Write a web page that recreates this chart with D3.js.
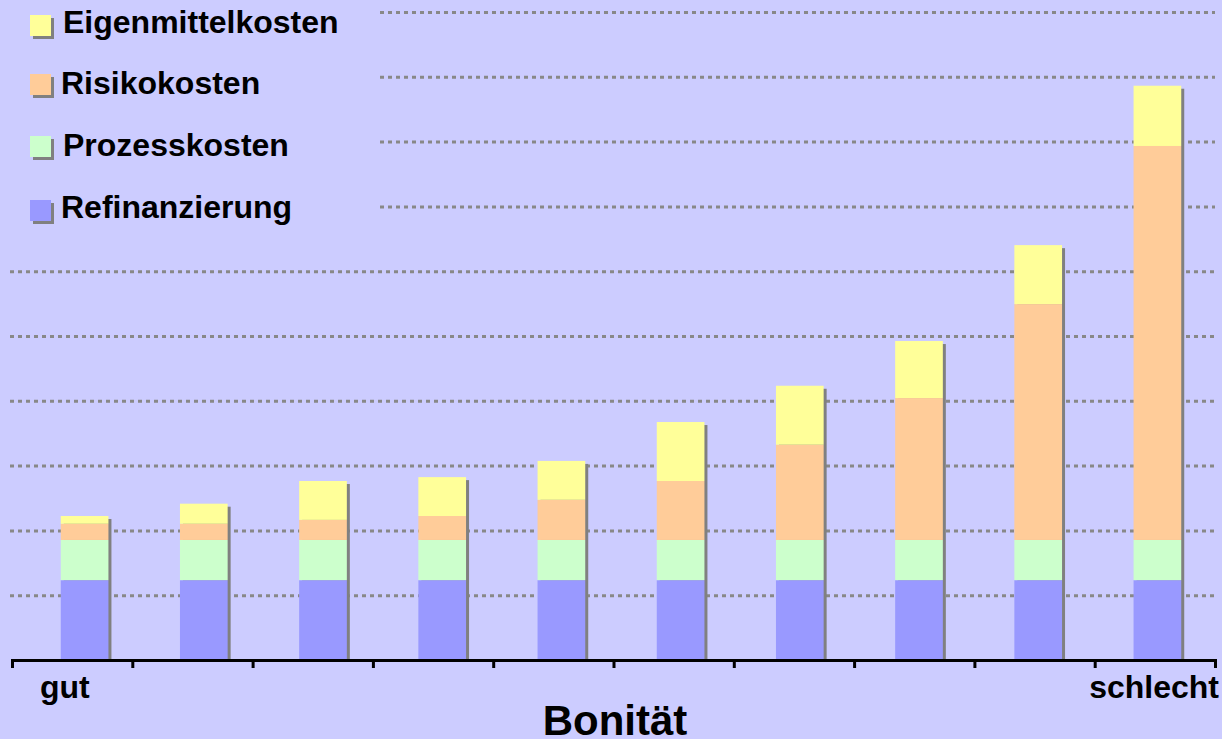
<!DOCTYPE html>
<html>
<head>
<meta charset="utf-8">
<script src="https://cdn.jsdelivr.net/npm/d3@7"></script>
<style>
  html, body { margin: 0; padding: 0; background: #CCCCFF; }
  svg { display: block; font-family: "Liberation Sans", Arial, sans-serif; }
</style>
</head>
<body>
<svg id="chart" width="1222" height="739"></svg>
<script>
// rating classes from good to bad
let classes = ["1", "2", "3", "4", "5", "6", "7", "8", "9", "10"];
let refinanzierung = [1.24, 1.24, 1.24, 1.24, 1.24, 1.24, 1.24, 1.24, 1.24, 1.24];
let prozesskosten = [0.62, 0.62, 0.62, 0.62, 0.62, 0.62, 0.62, 0.62, 0.62, 0.62];
let risikokosten = [0.25, 0.25, 0.31, 0.37, 0.62, 0.91, 1.47, 2.19, 3.64, 6.08];
let eigenmittelkosten = [0.12, 0.31, 0.60, 0.60, 0.60, 0.91, 0.91, 0.88, 0.91, 0.93];
let gridValues = [1, 2, 3, 4, 5, 6, 7, 8, 9, 10];
let seriesNames = ["Refinanzierung", "Prozesskosten", "Risikokosten", "Eigenmittelkosten"];
let seriesColors = ["#9999FF", "#CCFFCC", "#FFCC99", "#FFFF99"];

const svg = d3.select("#chart");

let rows = classes.map((c, i) => ({
    cls: c,
    Refinanzierung: refinanzierung[i],
    Prozesskosten: prozesskosten[i],
    Risikokosten: risikokosten[i],
    Eigenmittelkosten: eigenmittelkosten[i]
}));
let stacked = d3.stack().keys(seriesNames)(rows);
let color = d3.scaleOrdinal().domain(seriesNames).range(seriesColors);

let x = d3.scaleBand().domain(classes).range([25, 1217]).paddingInner(0.6).paddingOuter(0.3);
let y = d3.scaleLinear().domain([0, 10]).range([660.5, 12.5]);
let xAxisScale = d3.scaleLinear().domain([0, 10]).range([12, 1215]);

// dotted grid lines, the top ones leave room for the legend
svg.append("g").selectAll("line")
    .data(gridValues)
    .join("line")
    .attr("x1", d => d >= 7 ? 380 : 10)
    .attr("x2", 1215)
    .attr("y1", d => y(d))
    .attr("y2", d => y(d))
    .attr("stroke", "#888888")
    .attr("stroke-width", 3)
    .attr("stroke-dasharray", "4,4");

// bar shadows
let totals = rows.map((r, i) => refinanzierung[i] + prozesskosten[i] + risikokosten[i] + eigenmittelkosten[i]);
svg.append("g").selectAll("rect")
    .data(classes)
    .join("rect")
    .attr("x", d => x(d) + 3)
    .attr("y", (d, i) => y(totals[i]) + 3)
    .attr("width", x.bandwidth())
    .attr("height", (d, i) => y(0) - y(totals[i]) - 3)
    .attr("fill", "#808080");

// stacked bars
svg.append("g").selectAll("g")
    .data(stacked)
    .join("g")
    .attr("fill", d => color(d.key))
    .selectAll("rect")
    .data(d => d)
    .join("rect")
    .attr("x", d => x(d.data.cls))
    .attr("y", d => y(d[1]))
    .attr("width", x.bandwidth())
    .attr("height", d => y(d[0]) - y(d[1]));

// x axis with ticks between the classes
let axis = svg.append("g")
    .attr("transform", "translate(0," + 660 + ")")
    .call(d3.axisBottom(xAxisScale).tickValues(d3.range(0, 11)).tickSize(8).tickSizeOuter(8).tickFormat(""));
axis.select(".domain").attr("stroke", "#000").attr("stroke-width", 3);
axis.selectAll(".tick line").attr("stroke", "#000").attr("stroke-width", 3);

svg.append("text").attr("x", 40).attr("y", 698)
    .attr("font-size", 32).attr("font-weight", "bold").text("gut");
svg.append("text").attr("x", 1219).attr("y", 698).attr("text-anchor", "end")
    .attr("font-size", 32).attr("font-weight", "bold").text("schlecht");
svg.append("text").attr("x", 615).attr("y", 735).attr("text-anchor", "middle")
    .attr("font-size", 42).attr("font-weight", "bold").text("Bonität");

// legend, top entry is the top of the stack
let legendItems = [
    {name: "Eigenmittelkosten", box: 15, tx: 63, ty: 33},
    {name: "Risikokosten", box: 74, tx: 61, ty: 94},
    {name: "Prozesskosten", box: 136, tx: 63, ty: 156},
    {name: "Refinanzierung", box: 200, tx: 61, ty: 218}
];
let legend = svg.append("g");
legend.selectAll("rect.shadow")
    .data(legendItems)
    .join("rect")
    .attr("class", "shadow")
    .attr("x", 33).attr("y", d => d.box + 3)
    .attr("width", 21).attr("height", 21)
    .attr("fill", "#808080");
legend.selectAll("rect.box")
    .data(legendItems)
    .join("rect")
    .attr("class", "box")
    .attr("x", 30).attr("y", d => d.box)
    .attr("width", 21).attr("height", 21)
    .attr("fill", d => color(d.name));
legend.selectAll("text")
    .data(legendItems)
    .join("text")
    .attr("x", d => d.tx).attr("y", d => d.ty)
    .attr("font-size", 32).attr("font-weight", "bold")
    .text(d => d.name);
</script>
</body>
</html>
